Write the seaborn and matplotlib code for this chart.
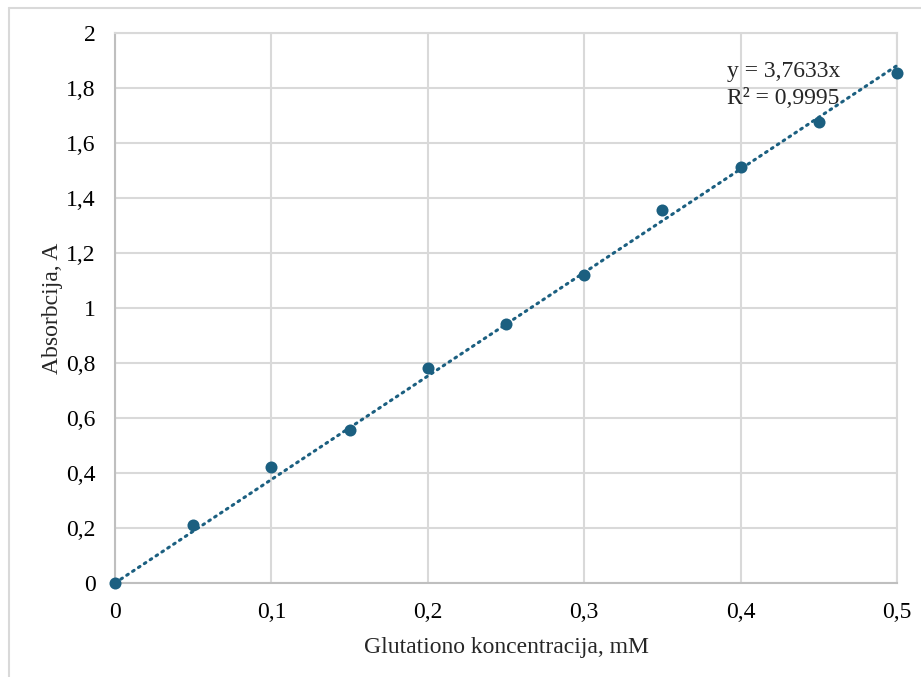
import matplotlib
matplotlib.use("Agg")
import matplotlib.pyplot as plt
import seaborn as sns
import numpy as np
import pandas as pd
from matplotlib.ticker import FuncFormatter, MultipleLocator

# Data
concentration = [0.0, 0.05, 0.10, 0.15, 0.20, 0.25, 0.30, 0.35, 0.40, 0.45, 0.50]
absorbance = [0.0, 0.211, 0.421, 0.555, 0.783, 0.942, 1.121, 1.357, 1.511, 1.676, 1.856]
slope = 3.7633
r2_text = "0,9995"
x_label = "Glutationo koncentracija, mM"
y_label = "Absorbcija, A"

df = pd.DataFrame({"x": concentration, "y": absorbance})

sns.set_theme(style="white")
plt.rcParams['font.family'] = ['Liberation Serif', 'DejaVu Serif']

color = "#1b5f80"
grid_c = "#d9d9d9"
fs = 17

fig = plt.figure(figsize=(9.21, 6.77), dpi=100)
ax = fig.add_axes([115/921, 1-583/677, (897-115)/921, (583-33)/677])

# frame lines of the chart area (left and top only visible)
fig.add_artist(plt.Line2D([9/921, 9/921], [0, 1-8/677], transform=fig.transFigure, color=grid_c, lw=1.5))
fig.add_artist(plt.Line2D([9/921, 1], [1-8/677, 1-8/677], transform=fig.transFigure, color=grid_c, lw=1.5))

xs = np.array([0, 0.5])
ax.plot(xs, slope*xs, linestyle=(0, (0.6, 1.7)), dash_capstyle='round', color=color, lw=2.2, zorder=3, clip_on=False)
sns.scatterplot(data=df, x="x", y="y", ax=ax, color=color, s=75, edgecolor=color, linewidth=0, zorder=4, clip_on=False)

ax.set_xlim(0, 0.5)
ax.set_ylim(0, 2)
ax.xaxis.set_major_locator(MultipleLocator(0.1))
ax.yaxis.set_major_locator(MultipleLocator(0.2))

def fmt(v, pos):
    s = f"{v:.1f}".rstrip('0').rstrip('.')
    if s in ("", "-0"):
        s = "0"
    return s.replace('.', ',')

ax.xaxis.set_major_formatter(FuncFormatter(fmt))
ax.yaxis.set_major_formatter(FuncFormatter(fmt))

ax.grid(True, color=grid_c, lw=1.5)
ax.set_axisbelow(True)
for sp in ax.spines.values():
    sp.set_color(grid_c)
    sp.set_linewidth(1.5)
ax.spines['left'].set_color("#bfbfbf")
ax.spines['bottom'].set_color("#bfbfbf")

ax.tick_params(axis='both', length=0, labelsize=fs, colors="#000000")
ax.tick_params(axis='y', pad=14)
ax.tick_params(axis='x', pad=14)

ax.set_xlabel(x_label, fontsize=fs, labelpad=10)
ax.set_ylabel(y_label, fontsize=fs, labelpad=2)

ax.text(0.391, 1.86, f"y = {slope:.4f}x".replace('.', ','), fontsize=fs, ha='left', va='center', zorder=5)
ax.text(0.391, 1.76, f"R² = {r2_text}", fontsize=fs, ha='left', va='center', zorder=5)

fig.savefig("out.png", dpi=100, facecolor="white")
